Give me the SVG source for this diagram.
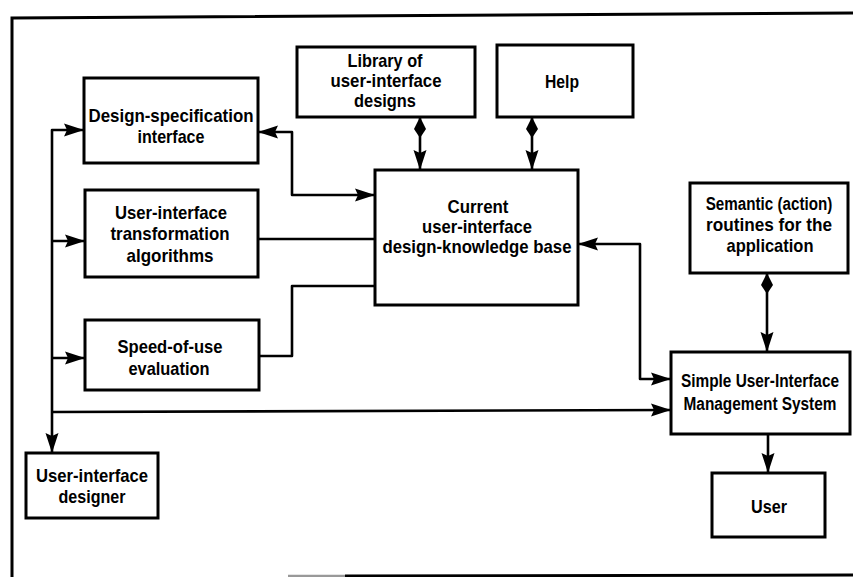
<svg xmlns="http://www.w3.org/2000/svg" width="853" height="577" viewBox="0 0 853 577">
  <style>
    .box { fill: #fff; stroke: #000; stroke-width: 3; }
    .frame { fill: none; stroke: #000; stroke-width: 3; }
    .wire { fill: none; stroke: #000; stroke-width: 2.6; stroke-linejoin: round; }
    .lbl { font-family: "Liberation Sans", Arial, sans-serif; font-size: 19px; font-weight: 700; fill: #000; text-anchor: middle; }
  </style>
  <defs>
    <!-- filled arrowhead, tip at the path end -->
    <marker id="arr" viewBox="-22 -8 24 16" markerWidth="24" markerHeight="16" refX="0" refY="0" orient="auto-start-reverse" markerUnits="userSpaceOnUse">
      <path d="M0,0 L-20,-6.5 L-17,0 L-20,6.5 Z" fill="#000"/>
    </marker>
    <!-- kite-shaped head used on the far end of two-way links -->
    <marker id="kite" viewBox="-24 -8 26 16" markerWidth="26" markerHeight="16" refX="0" refY="0" orient="auto-start-reverse" markerUnits="userSpaceOnUse">
      <path d="M0,0 L-12,-6 L-21,0 L-12,6 Z" fill="#000"/>
    </marker>
  </defs>

  <!-- outer frame -->
  <g id="frame">
    <path class="frame" d="M12,577 L12,18 L853,13"/>
    <path d="M288,576 L345,576" stroke="#999" stroke-width="2.5"/>
    <path d="M345,576 L853,575" stroke="#000" stroke-width="3"/>
  </g>

  <!-- connectors -->
  <g id="connectors">
    <path class="wire" d="M52,453 L52,130 L84,130" marker-start="url(#arr)" marker-end="url(#arr)"/>
    <path class="wire" d="M52,241 L85,241" marker-end="url(#arr)"/>
    <path class="wire" d="M52,358 L85,358" marker-end="url(#arr)"/>
    <path class="wire" d="M52,412 L671,410" marker-end="url(#arr)"/>
    <path class="wire" d="M258,132 L292,132 L292,195 L375,195" marker-start="url(#arr)" marker-end="url(#arr)"/>
    <path class="wire" d="M258,239 L375,239"/>
    <path class="wire" d="M259,356 L292,356 L292,286 L375,286"/>
    <path class="wire" d="M420,117 L420,170" marker-start="url(#kite)" marker-end="url(#arr)"/>
    <path class="wire" d="M532,117 L532,170" marker-start="url(#kite)" marker-end="url(#arr)"/>
    <path class="wire" d="M578,244 L640,244 L640,379 L671,379" marker-start="url(#arr)" marker-end="url(#arr)"/>
    <path class="wire" d="M767,273 L767,352" marker-start="url(#kite)" marker-end="url(#arr)"/>
    <path class="wire" d="M768,434 L768,473" marker-end="url(#arr)"/>
  </g>

  <g id="design-spec">
    <rect class="box" x="84" y="78" width="174" height="85"/>
    <text class="lbl" x="171" y="122" textLength="165" lengthAdjust="spacingAndGlyphs">Design-specification</text>
    <text class="lbl" x="171" y="143" textLength="67" lengthAdjust="spacingAndGlyphs">interface</text>
  </g>

  <g id="library">
    <rect class="box" x="297" y="47" width="178" height="70"/>
    <text class="lbl" x="385" y="67" textLength="75" lengthAdjust="spacingAndGlyphs">Library of</text>
    <text class="lbl" x="386" y="87" textLength="111" lengthAdjust="spacingAndGlyphs">user-interface</text>
    <text class="lbl" x="385" y="107" textLength="62" lengthAdjust="spacingAndGlyphs">designs</text>
  </g>

  <g id="help">
    <rect class="box" x="497" y="45" width="136" height="72"/>
    <text class="lbl" x="562" y="88" textLength="34" lengthAdjust="spacingAndGlyphs">Help</text>
  </g>

  <g id="knowledge-base">
    <rect class="box" x="375" y="170" width="203" height="135"/>
    <text class="lbl" x="478" y="213" textLength="61" lengthAdjust="spacingAndGlyphs">Current</text>
    <text class="lbl" x="477" y="233" textLength="110" lengthAdjust="spacingAndGlyphs">user-interface</text>
    <text class="lbl" x="477" y="253" textLength="189" lengthAdjust="spacingAndGlyphs">design-knowledge base</text>
  </g>

  <g id="transformation">
    <rect class="box" x="85" y="190" width="173" height="87"/>
    <text class="lbl" x="171" y="219" textLength="112" lengthAdjust="spacingAndGlyphs">User-interface</text>
    <text class="lbl" x="170" y="240" textLength="119" lengthAdjust="spacingAndGlyphs">transformation</text>
    <text class="lbl" x="170" y="262" textLength="87" lengthAdjust="spacingAndGlyphs">algorithms</text>
  </g>

  <g id="speed-of-use">
    <rect class="box" x="85" y="320" width="174" height="70"/>
    <text class="lbl" x="170" y="353" textLength="105" lengthAdjust="spacingAndGlyphs">Speed-of-use</text>
    <text class="lbl" x="169" y="375" textLength="81" lengthAdjust="spacingAndGlyphs">evaluation</text>
  </g>

  <g id="designer">
    <rect class="box" x="26" y="453" width="132" height="65"/>
    <text class="lbl" x="92" y="482" textLength="112" lengthAdjust="spacingAndGlyphs">User-interface</text>
    <text class="lbl" x="92" y="503" textLength="67" lengthAdjust="spacingAndGlyphs">designer</text>
  </g>

  <g id="semantic-routines">
    <rect class="box" x="690" y="183" width="158" height="90"/>
    <!-- wide lines are narrowed with a horizontal scale so they sit inside the box -->
    <text class="lbl" transform="translate(769,210) scale(0.8,1)">Semantic (action)</text>
    <text class="lbl" x="769" y="231" textLength="126" lengthAdjust="spacingAndGlyphs">routines for the</text>
    <text class="lbl" x="770" y="252" textLength="87" lengthAdjust="spacingAndGlyphs">application</text>
  </g>

  <g id="uims">
    <rect class="box" x="671" y="352" width="179" height="82"/>
    <text class="lbl" transform="translate(760,387) scale(0.81,1)">Simple User-Interface</text>
    <text class="lbl" transform="translate(760,410) scale(0.81,1)">Management System</text>
  </g>

  <g id="user">
    <rect class="box" x="712" y="473" width="113" height="64"/>
    <text class="lbl" x="769" y="513" textLength="36" lengthAdjust="spacingAndGlyphs">User</text>
  </g>
</svg>
